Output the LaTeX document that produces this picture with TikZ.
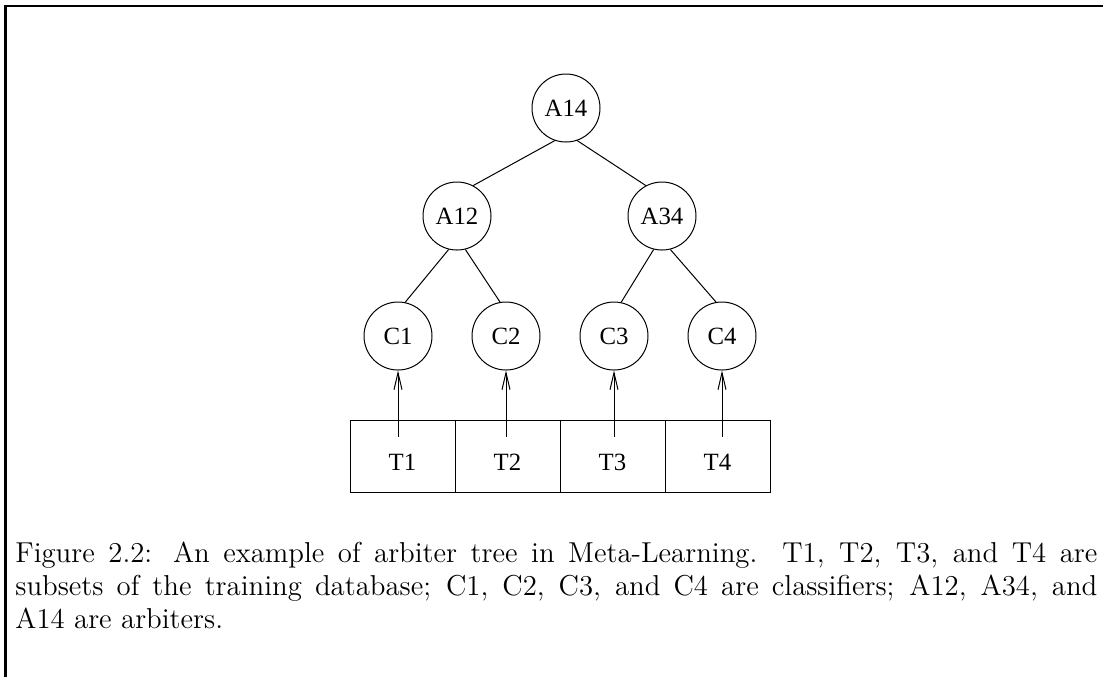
\documentclass[tikz,border=0pt]{standalone}
\usepackage{fontspec}
\newfontfamily\figfont{Liberation Serif}
\usetikzlibrary{arrows.meta}
\begin{document}
\begin{tikzpicture}[x=0.5pt,y=-0.5pt,
  every node/.style={font=\figfont\fontsize{12.4}{14}\selectfont},
  circ/.style={circle,draw,line width=0.5pt,minimum size=34pt,inner sep=0pt},
  tbox/.style={rectangle,draw,line width=0.5pt,minimum width=52.5pt,minimum height=36pt,
    inner sep=0pt,text height=14pt,text depth=0pt},
  edge/.style={line width=0.5pt},
  arr/.style={line width=0.5pt,-{Straight Barb[length=8.5pt,width=4pt,line width=0.5pt]}}]
\useasboundingbox (0,0) rectangle (1103,677);
% open frame: left and top rules
\draw[line width=1.15pt] (5.4,677) -- (5.4,6) -- (1103,6);
% arbiters
\node[circ] (A14) at (566,108) {A14};
\node[circ] (A12) at (457,216) {A12};
\node[circ] (A34) at (662,216) {A34};
% classifiers
\node[circ] (C1) at (398,336) {C1};
\node[circ] (C2) at (506,336) {C2};
\node[circ] (C3) at (614,336) {C3};
\node[circ] (C4) at (722,336) {C4};
% training subsets
\node[tbox] (T1) at (402.5,456) {T1};
\node[tbox] (T2) at (507.5,456) {T2};
\node[tbox] (T3) at (612.5,456) {T3};
\node[tbox] (T4) at (717.5,456) {T4};
% tree edges
\draw[edge] (A14.251) -- (A12.62);
\draw[edge] (A14.289) -- (A34.118);
\draw[edge] (A12.256) -- (C1.78);
\draw[edge] (A12.284) -- (C2.100);
\draw[edge] (A34.256) -- (C3.78);
\draw[edge] (A34.284) -- (C4.100);
% data feeding each classifier
\foreach \i in {1,2,3,4}
  \draw[arr] ([yshift=-8.5pt]T\i.north -| C\i.south) -- (C\i.south);
% caption
\node[anchor=north west,inner sep=0pt,text width=541pt,align=justify,
  font=\fontsize{14.4}{16.5}\selectfont] (cap) at (15,542)
  {Figure 2.2: An example of arbiter tree in Meta-Learning. T1, T2, T3, and T4 are\linebreak
   subsets of the training database; C1, C2, C3, and C4 are classifiers; A12, A34, and\linebreak
   A14 are arbiters.};
\end{tikzpicture}
\end{document}
